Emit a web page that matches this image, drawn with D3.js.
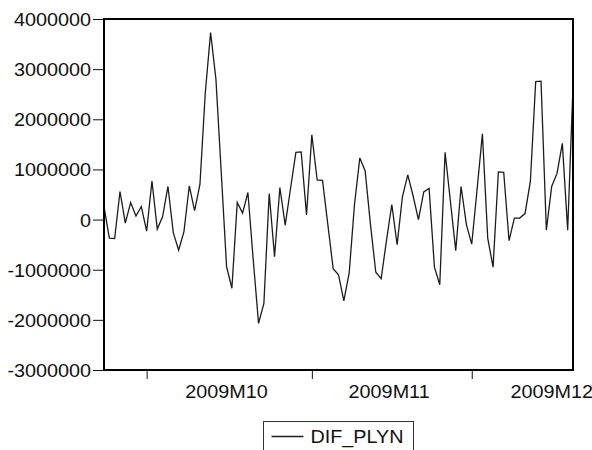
<!DOCTYPE html>
<html>
<head>
<meta charset="utf-8">
<script src="https://cdn.jsdelivr.net/npm/d3@7"></script>
<style>
  html, body { margin: 0; padding: 0; background: #fff; }
  svg { display: block; }
  text { font-family: "Liberation Sans", Arial, sans-serif; fill: #111; }
</style>
</head>
<body>
<svg id="chart" width="592" height="450"></svg>
<script>
// Daily series DIF_PLYN, 2009-09-23 .. 2009-12-20
const seriesName = "DIF_PLYN";
const firstDay = "2009-09-23";
const lastDay = "2009-12-20";
const difPlyn = [
  260000, -370000, -380000, 560000, -70000, 340000, 70000, 260000,
  -230000, 770000, -190000, 60000, 660000, -260000, -610000, -240000,
  670000, 180000, 700000, 2520000, 3730000, 2800000, 940000, -940000,
  -1370000, 340000, 130000, 540000, -800000, -2070000, -1670000, 520000,
  -740000, 640000, -110000, 620000, 1340000, 1350000, 90000, 1690000,
  790000, 780000, -100000, -980000, -1100000, -1620000, -1070000, 300000,
  1230000, 970000, -100000, -1050000, -1180000, -420000, 300000, -500000,
  460000, 890000, 470000, 0, 550000, 620000, -950000, -1300000,
  1340000, 360000, -620000, 660000, -100000, -490000, 600000, 1710000,
  -370000, -950000, 950000, 940000, -420000, 30000, 30000, 120000,
  760000, 2750000, 2760000, -210000, 660000, 920000, 1520000, -210000,
  2650000
];
const yTicks = [-3000000, -2000000, -1000000, 0, 1000000, 2000000, 3000000, 4000000];
const monthTicks = ["2009-10-01", "2009-11-01", "2009-12-01"];
const monthLabels = ["2009M10", "2009M11", "2009M12"];
const monthLabelAt = ["2009-10-16", "2009-11-15T12:00", "2009-12-16"];

const parse = s => new Date(s + (s.length > 10 ? ":00Z" : "T00:00:00Z"));
const days = d3.utcDay.range(parse(firstDay), d3.utcDay.offset(parse(lastDay), 1));
const data = days.map((d, i) => ({ date: d, value: difPlyn[i] }));

const plot = { left: 104, top: 19, right: 573, bottom: 370 };
const stretch = 1.1; // horizontal stretch of label glyphs
const fontSize = 18;

const svg = d3.select("#chart");

const x = d3.scaleUtc()
  .domain([parse(firstDay), parse(lastDay)])
  .range([plot.left, plot.right]);
const y = d3.scaleLinear()
  .domain([-3000000, 4000000])
  .range([plot.bottom, plot.top]);

// series line
const line = d3.line().x(d => x(d.date)).y(d => y(d.value));
svg.append("path")
  .datum(data)
  .attr("fill", "none")
  .attr("stroke", "#1c1c1c")
  .attr("stroke-width", 1.3)
  .attr("stroke-linejoin", "miter")
  .attr("d", line);

// left axis
const yAxis = d3.axisLeft(y)
  .tickValues(yTicks)
  .tickFormat(d => String(d))
  .tickSize(11)
  .tickPadding(2);
const gy = svg.append("g")
  .attr("transform", `translate(${plot.left},0)`)
  .call(yAxis);
gy.select(".domain").remove();
gy.selectAll(".tick line").attr("stroke", "#111").attr("stroke-width", 1);
gy.selectAll(".tick text")
  .attr("font-size", fontSize)
  .attr("font-family", null)
  .attr("fill", "#111")
  .attr("x", -13 / stretch)
  .attr("dy", "0.36em")
  .attr("transform", `scale(${stretch},1)`);

// bottom axis: ticks at month starts, labels mid-month
const xAxis = d3.axisBottom(x)
  .tickValues(monthTicks.map(parse))
  .tickFormat("")
  .tickSize(9);
const gx = svg.append("g")
  .attr("transform", `translate(0,${plot.bottom})`)
  .call(xAxis);
gx.select(".domain").remove();
gx.selectAll(".tick line").attr("stroke", "#111").attr("stroke-width", 1);

svg.append("g")
  .selectAll("text")
  .data(monthLabels)
  .join("text")
  .attr("text-anchor", "middle")
  .attr("font-size", fontSize)
  .attr("transform", (d, i) => `translate(${x(parse(monthLabelAt[i]))},${plot.bottom + 28}) scale(${stretch},1)`)
  .text(d => d);

// plot frame
svg.append("rect")
  .attr("x", plot.left)
  .attr("y", plot.top)
  .attr("width", plot.right - plot.left)
  .attr("height", plot.bottom - plot.top)
  .attr("fill", "none")
  .attr("stroke", "#000")
  .attr("stroke-width", 2);

// legend
const legend = svg.append("g").attr("transform", "translate(263.5,421.5)");
legend.append("rect")
  .attr("width", 150)
  .attr("height", 40)
  .attr("fill", "#fff")
  .attr("stroke", "#333")
  .attr("stroke-width", 1);
legend.append("line")
  .attr("x1", 8).attr("x2", 40)
  .attr("y1", 15).attr("y2", 15)
  .attr("stroke", "#1c1c1c")
  .attr("stroke-width", 1.3);
legend.append("text")
  .attr("font-size", fontSize)
  .attr("transform", `translate(47,21) scale(${stretch},1)`)
  .text(seriesName);
</script>
</body>
</html>
